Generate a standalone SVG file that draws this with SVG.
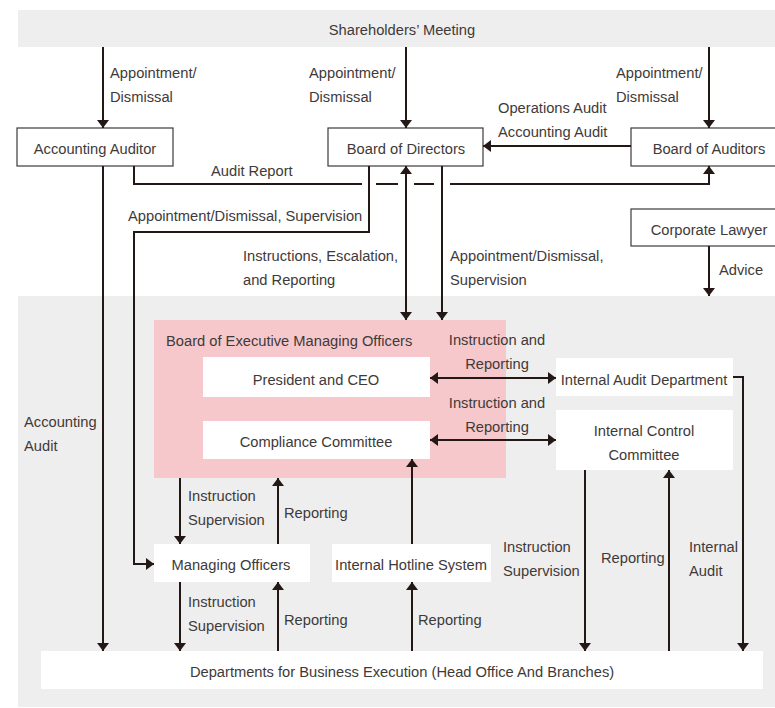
<svg xmlns="http://www.w3.org/2000/svg" width="775" height="708" viewBox="0 0 775 708">
<style>
text{font-family:"Liberation Sans",Arial,sans-serif;font-size:14.7px;fill:#3e3a39}
.c{text-anchor:middle}
.box{fill:#fff;stroke:#3e3a39;stroke-width:1.2}
.wb{fill:#fff}
.ln{fill:none;stroke:#231815;stroke-width:2}
</style>
<defs>
<marker id="ah" viewBox="0 0 8 12" refX="8" refY="6" markerWidth="8" markerHeight="12" markerUnits="userSpaceOnUse" orient="auto-start-reverse">
<path d="M0,0 L8,6 L0,12 z" fill="#231815"/>
</marker>
</defs>
<rect x="0" y="0" width="775" height="708" fill="#fff"/>
<rect x="18" y="10" width="757" height="37" fill="#eeeeee"/>
<rect x="18" y="296" width="757" height="411" fill="#eeeeee"/>
<g id="shareholders"><text class="c" x="402" y="35">Shareholders’ Meeting</text></g>
<g id="accounting-auditor"><rect class="box" x="17" y="128" width="156" height="38"/><text class="c" x="95" y="154">Accounting Auditor</text></g>
<g id="board-of-directors"><rect class="box" x="328" y="128" width="155" height="38"/><text class="c" x="406" y="154">Board of Directors</text></g>
<g id="board-of-auditors"><rect class="box" x="631" y="128" width="150" height="38"/><text class="c" x="709" y="154">Board of Auditors</text></g>
<g id="corporate-lawyer"><rect class="box" x="631" y="209" width="150" height="37"/><text class="c" x="709" y="235">Corporate Lawyer</text></g>
<g id="board-exec"><rect x="154" y="320" width="352" height="158" fill="#f7c8cb"/><text x="166" y="346">Board of Executive Managing Officers</text></g>
<g id="president"><rect class="wb" x="203" y="357" width="227" height="40"/><text class="c" x="316" y="385">President and CEO</text></g>
<g id="compliance"><rect class="wb" x="203" y="421" width="227" height="38"/><text class="c" x="316" y="447">Compliance Committee</text></g>
<g id="internal-audit"><rect class="wb" x="556" y="358" width="177" height="38"/><text class="c" x="644" y="385">Internal Audit Department</text></g>
<g id="internal-control"><rect class="wb" x="556" y="410" width="177" height="60"/><text class="c" x="644" y="436">Internal Control</text><text class="c" x="644" y="460">Committee</text></g>
<g id="managing-officers"><rect class="wb" x="154" y="544" width="156" height="38"/><text class="c" x="231" y="570">Managing Officers</text></g>
<g id="hotline"><rect class="wb" x="332" y="544" width="159" height="38"/><text class="c" x="411" y="570">Internal Hotline System</text></g>
<g id="departments"><rect class="wb" x="41" y="651" width="722" height="38"/><text class="c" x="402" y="677">Departments for Business Execution (Head Office And Branches)</text></g>
<g id="connectors">
<path class="ln" d="M103,47 V128" marker-end="url(#ah)"/>
<path class="ln" d="M406,47 V128" marker-end="url(#ah)"/>
<path class="ln" d="M709,47 V128" marker-end="url(#ah)"/>
<path class="ln" d="M631,146 H483" marker-end="url(#ah)"/>
<path class="ln" d="M134,166 V184 H362 M376,184 H398 M414,184 H434 M450,184 H709 V166" marker-end="url(#ah)"/>
<path class="ln" d="M369,166 V232 H134 V564 H154" marker-end="url(#ah)"/>
<path class="ln" d="M406,166 V320" marker-start="url(#ah)" marker-end="url(#ah)"/>
<path class="ln" d="M442,166 V320" marker-end="url(#ah)"/>
<path class="ln" d="M709,246 V296" marker-end="url(#ah)"/>
<path class="ln" d="M103,166 V651" marker-end="url(#ah)"/>
<path class="ln" d="M430,378 H556" marker-start="url(#ah)" marker-end="url(#ah)"/>
<path class="ln" d="M430,440 H556" marker-start="url(#ah)" marker-end="url(#ah)"/>
<path class="ln" d="M733,377 H743 V651" marker-end="url(#ah)"/>
<path class="ln" d="M585,470 V651" marker-end="url(#ah)"/>
<path class="ln" d="M669,651 V470" marker-end="url(#ah)"/>
<path class="ln" d="M180,478 V544" marker-end="url(#ah)"/>
<path class="ln" d="M278,544 V478" marker-end="url(#ah)"/>
<path class="ln" d="M180,582 V651" marker-end="url(#ah)"/>
<path class="ln" d="M278,651 V582" marker-end="url(#ah)"/>
<path class="ln" d="M412,651 V582" marker-end="url(#ah)"/>
<path class="ln" d="M412,544 V459" marker-end="url(#ah)"/>
</g>
<g id="labels">
<text x="110" y="78">Appointment/</text><text x="110" y="102">Dismissal</text>
<text x="309" y="78">Appointment/</text><text x="309" y="102">Dismissal</text>
<text x="616" y="78">Appointment/</text><text x="616" y="102">Dismissal</text>
<text x="498" y="113">Operations Audit</text><text x="498" y="137">Accounting Audit</text>
<text x="211" y="176">Audit Report</text>
<text x="128" y="221">Appointment/Dismissal, Supervision</text>
<text x="243" y="261">Instructions, Escalation,</text><text x="243" y="285">and Reporting</text>
<text x="450" y="261">Appointment/Dismissal,</text><text x="450" y="285">Supervision</text>
<text x="719" y="275">Advice</text>
<text class="c" x="497" y="345">Instruction and</text><text class="c" x="497" y="369">Reporting</text>
<text class="c" x="497" y="408">Instruction and</text><text class="c" x="497" y="432">Reporting</text>
<text x="24" y="427">Accounting</text><text x="24" y="451">Audit</text>
<text x="188" y="501">Instruction</text><text x="188" y="525">Supervision</text>
<text x="284" y="518">Reporting</text>
<text x="503" y="552">Instruction</text><text x="503" y="576">Supervision</text>
<text x="601" y="563">Reporting</text>
<text x="689" y="552">Internal</text><text x="689" y="576">Audit</text>
<text x="188" y="607">Instruction</text><text x="188" y="631">Supervision</text>
<text x="284" y="625">Reporting</text>
<text x="418" y="625">Reporting</text>
</g>
</svg>
